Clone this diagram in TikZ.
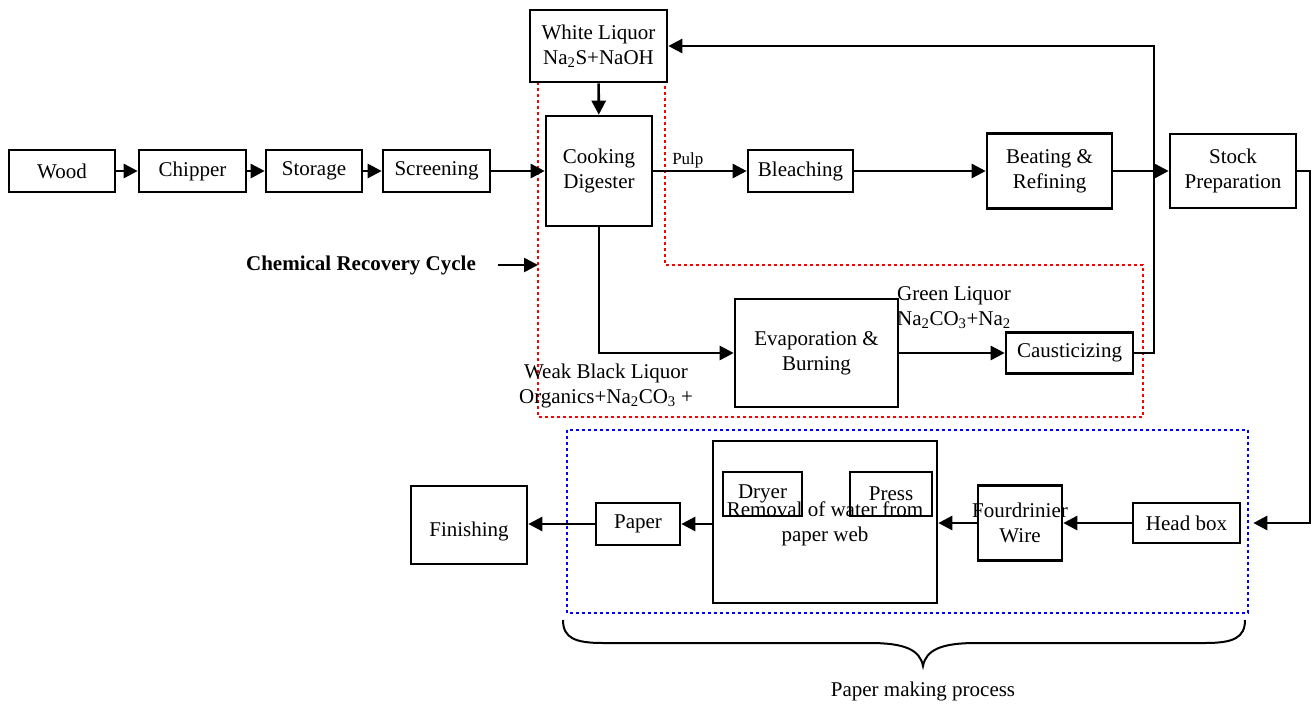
\documentclass[tikz,border=0pt]{standalone}
\usepackage{fontspec}
\setmainfont{Liberation Serif}
\usetikzlibrary{arrows.meta}
\begin{document}
\begin{tikzpicture}[x=1pt,y=-1pt,
  every node/.style={font=\fontsize{21}{25}\selectfont},
  pbox/.style={draw, line width=2.6pt, inner sep=0pt, align=center},
  arr/.style={line width=2.6pt, -{Triangle[length=14pt,width=14pt]}},
  redzone/.style={draw=red, line width=2.6pt, dash pattern=on 2.6pt off 3.4pt},
  bluezone/.style={draw=blue, line width=2.6pt, dash pattern=on 2.6pt off 3.4pt},
  lbl/.style={inner sep=0pt, align=center}]
\useasboundingbox (0,0) rectangle (1314,704);
% zones
\draw[redzone] (538,82) -- (538,417) -- (1143,417) -- (1143,265) -- (665,265) -- (665,82);
\draw[bluezone] (567,430) rectangle (1248,613);
% boxes
\node[pbox, minimum width=106, minimum height=42] (wood) at (62,171) {Wood};
\node[pbox, minimum width=107, minimum height=42] (chip) at (192.5,171) {Chipper};
\node[pbox, minimum width=96, minimum height=42] (stor) at (314,171) {Storage};
\node[pbox, minimum width=107, minimum height=42] (scr) at (436.5,171) {Screening};
\node[pbox, minimum width=137, minimum height=72] (wl) at (598.5,46) {White Liquor\\Na\textsubscript{2}S+NaOH};
\node[pbox, minimum width=106, minimum height=110] (dig) at (599,171) {Cooking\\Digester};
\node[pbox, minimum width=105, minimum height=42] (blea) at (800.5,171) {Bleaching};
\node[pbox, minimum width=125, minimum height=75] (beat) at (1049.5,171) {Beating \&\\Refining};
\node[pbox, minimum width=126, minimum height=74] (stock) at (1233,171) {Stock\\Preparation};
\node[pbox, minimum width=163, minimum height=108] (evap) at (816.5,353) {Evaporation \&\\Burning};
\node[pbox, minimum width=127, minimum height=41] (caus) at (1069.5,353) {Causticizing};
\node[pbox, minimum width=107, minimum height=40] (head) at (1186.5,523) {Head box};
\node[pbox, minimum width=84, minimum height=75] (four) at (1020,523) {\makebox[0pt][c]{Fourdrinier}\\Wire};
\node[pbox, minimum width=224, minimum height=162] (rem) at (825,522) {};
\node[pbox, minimum width=79, minimum height=44] (dry) at (762.5,494) {Dryer};
\node[pbox, minimum width=82, minimum height=44] (press) at (891,494) {Press};
\node[lbl] (remtxt) at (825,524) {Removal of water from\\paper web};
\node[pbox, minimum width=84, minimum height=42] (paper) at (638,524) {Paper};
\node[pbox, minimum width=116, minimum height=78] (fin) at (469,525) {};
\node[lbl] (fintxt) at (469,531) {Finishing};
% labels
\node[lbl, font=\fontsize{21}{25}\selectfont\bfseries] (crc) at (361,265) {Chemical Recovery Cycle};
\coordinate (crcend) at (538,265);
\node[lbl, align=left, anchor=north west] (green) at (897,286) {Green Liquor\\Na\textsubscript{2}CO\textsubscript{3}+Na\textsubscript{2}};
\node[lbl] (weak) at (606,386) {Weak Black Liquor\\Organics+Na\textsubscript{2}CO\textsubscript{3} +};
\node[lbl] (pmp) at (923,691) {Paper making process};
% connectors
\draw[arr] (wood) -- (chip);
\draw[arr] (chip) -- (stor);
\draw[arr] (stor) -- (scr);
\draw[arr] (scr) -- (dig);
\draw[arr] (wl) -- (dig);
\draw[arr] (dig.east) -- node[pos=0.37, above, inner sep=2pt, font=\fontsize{17}{20}\selectfont] {Pulp} (blea.west);
\draw[arr] (blea) -- (beat);
\draw[arr] (beat) -- (stock);
\coordinate (rj) at (1154,353);
\draw[arr] (caus.east) -- (rj) |- (wl.east);
\draw[arr] (dig.south) |- (evap.west);
\draw[arr] (evap.east |- caus.west) -- (caus.west);
\coordinate (sj) at (1310,171);
\draw[arr] (stock.east) -- (sj) |- ([xshift=12pt]head.east);
\draw[arr] (head) -- (four);
\draw[arr] (four.west) -- (rem.east |- four.west);
\draw[arr] (rem.west |- paper.east) -- (paper.east);
\draw[arr] (paper.west) -- (fin.east |- paper.west);
\draw[arr] ([xshift=22pt]crc.east) -- (crcend);
% brace
\draw[line width=2pt] (563,620) .. controls (563,638) and (575,643) .. (603,643) -- (870,643)
  .. controls (905,643) and (920,650) .. (923,666)
  .. controls (926,650) and (941,643) .. (976,643) -- (1205,643)
  .. controls (1233,643) and (1245,638) .. (1245,620);
\end{tikzpicture}
\end{document}
